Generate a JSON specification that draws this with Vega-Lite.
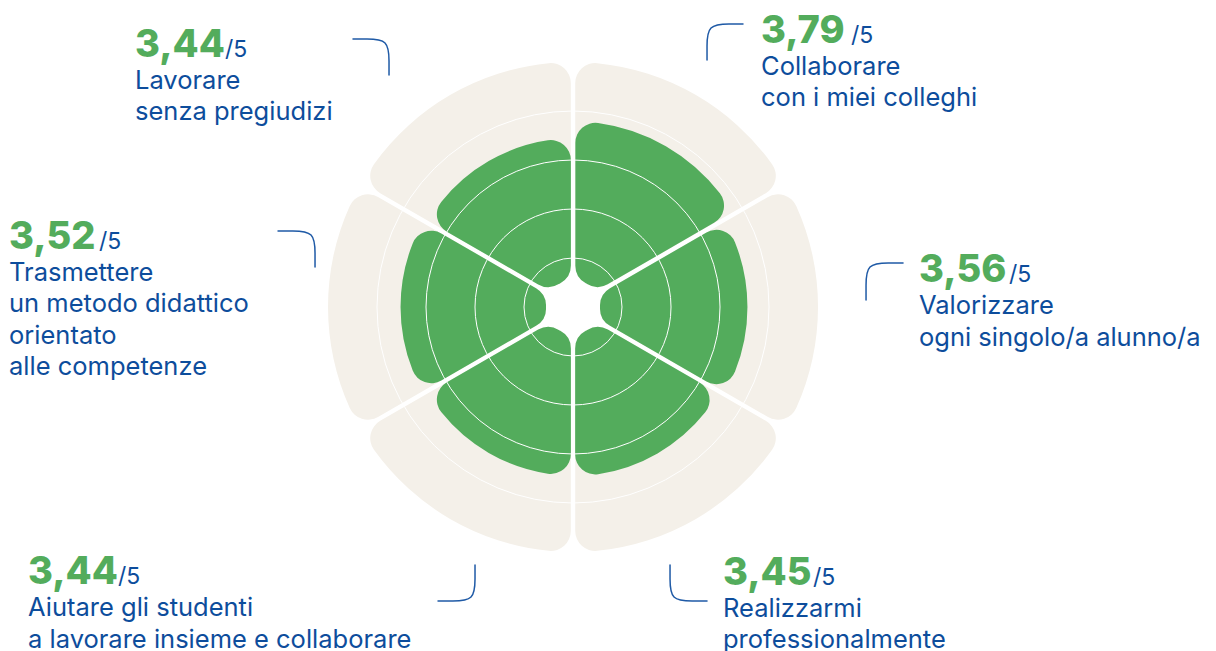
{
  "$schema": "https://vega.github.io/schema/vega-lite/v6.json",
  "width": 1216,
  "height": 651,
  "autosize": "none",
  "padding": 0,
  "background": "white",
  "config": {
    "view": {"stroke": null},
    "locale": {"number": {"decimal": ",", "thousands": ".", "grouping": [3], "currency": ["€", ""]}}
  },
  "datasets": {
    "scores": [
      {"aspetto": "Collaborare\ncon i miei colleghi", "punteggio": 3.79, "quota": 1},
      {"aspetto": "Valorizzare\nogni singolo/a alunno/a", "punteggio": 3.56, "quota": 1},
      {"aspetto": "Realizzarmi\nprofessionalmente", "punteggio": 3.45, "quota": 1},
      {"aspetto": "Aiutare gli studenti\na lavorare insieme e collaborare", "punteggio": 3.44, "quota": 1},
      {"aspetto": "Trasmettere\nun metodo didattico\norientato\nalle competenze", "punteggio": 3.52, "quota": 1},
      {"aspetto": "Lavorare\nsenza pregiudizi", "punteggio": 3.44, "quota": 1}
    ],
    "griglia": [{"livello": 1}, {"livello": 2}, {"livello": 3}, {"livello": 4}],
    "etichette": [
      {"aspetto": "Collaborare\ncon i miei colleghi", "ax": 3.837, "ay": 5.388},
      {"aspetto": "Valorizzare\nogni singolo/a alunno/a", "ax": 7.061, "ay": 0.51},
      {"aspetto": "Realizzarmi\nprofessionalmente", "ax": 3.061, "ay": -5.673},
      {"aspetto": "Aiutare gli studenti\na lavorare insieme e collaborare", "ax": -11.122, "ay": -5.653},
      {"aspetto": "Trasmettere\nun metodo didattico\norientato\nalle competenze", "ax": -11.51, "ay": 1.184},
      {"aspetto": "Lavorare\nsenza pregiudizi", "ax": -8.939, "ay": 5.102}
    ],
    "connettori": [
      {"c": "Collaborare", "p": 1, "ax": 2.735, "ay": 5.041},
      {"c": "Collaborare", "p": 2, "ax": 2.735, "ay": 5.286},
      {"c": "Collaborare", "p": 3, "ax": 2.735, "ay": 5.776},
      {"c": "Collaborare", "p": 4, "ax": 3.224, "ay": 5.776},
      {"c": "Collaborare", "p": 5, "ax": 3.469, "ay": 5.776},
      {"c": "Valorizzare", "p": 1, "ax": 5.98, "ay": 0.143},
      {"c": "Valorizzare", "p": 2, "ax": 5.98, "ay": 0.408},
      {"c": "Valorizzare", "p": 3, "ax": 5.98, "ay": 0.898},
      {"c": "Valorizzare", "p": 4, "ax": 6.469, "ay": 0.898},
      {"c": "Valorizzare", "p": 5, "ax": 6.735, "ay": 0.898},
      {"c": "Realizzarmi", "p": 1, "ax": 1.98, "ay": -5.265},
      {"c": "Realizzarmi", "p": 2, "ax": 1.98, "ay": -5.51},
      {"c": "Realizzarmi", "p": 3, "ax": 1.98, "ay": -6.0},
      {"c": "Realizzarmi", "p": 4, "ax": 2.469, "ay": -6.0},
      {"c": "Realizzarmi", "p": 5, "ax": 2.735, "ay": -6.0},
      {"c": "Aiutare", "p": 1, "ax": -2.0, "ay": -5.265},
      {"c": "Aiutare", "p": 2, "ax": -2.0, "ay": -5.51},
      {"c": "Aiutare", "p": 3, "ax": -2.0, "ay": -6.0},
      {"c": "Aiutare", "p": 4, "ax": -2.49, "ay": -6.0},
      {"c": "Aiutare", "p": 5, "ax": -2.755, "ay": -6.0},
      {"c": "Trasmettere", "p": 1, "ax": -5.265, "ay": 0.816},
      {"c": "Trasmettere", "p": 2, "ax": -5.265, "ay": 1.061},
      {"c": "Trasmettere", "p": 3, "ax": -5.265, "ay": 1.551},
      {"c": "Trasmettere", "p": 4, "ax": -5.755, "ay": 1.551},
      {"c": "Trasmettere", "p": 5, "ax": -6.02, "ay": 1.551},
      {"c": "Lavorare", "p": 1, "ax": -3.755, "ay": 4.735},
      {"c": "Lavorare", "p": 2, "ax": -3.755, "ay": 4.98},
      {"c": "Lavorare", "p": 3, "ax": -3.755, "ay": 5.469},
      {"c": "Lavorare", "p": 4, "ax": -4.245, "ay": 5.469},
      {"c": "Lavorare", "p": 5, "ax": -4.49, "ay": 5.469}
    ]
  },
  "layer": [
    {
      "data": {"name": "scores"},
      "transform": [{"stack": "quota", "groupby": [], "as": ["t0", "t1"]}],
      "mark": {"type": "arc", "innerRadius": 27, "cornerRadius": 20, "padAngle": 0.018, "color": "#F4F0E9"},
      "encoding": {
        "x": {"datum": 0, "type": "quantitative", "scale": {"type": "linear", "domain": [-11.694, 13.122], "nice": false, "zero": false}, "axis": null},
        "y": {"datum": 0, "type": "quantitative", "scale": {"type": "linear", "domain": [-7.02, 6.265], "nice": false, "zero": false}, "axis": null},
        "theta": {"field": "t0", "type": "quantitative", "stack": null, "scale": {"domain": [0, 6], "range": [0, 6.283185307], "zero": true, "nice": false}},
        "theta2": {"field": "t1"},
        "radius": {"datum": 5, "type": "quantitative", "stack": null, "scale": {"type": "linear", "domain": [0, 5], "range": [0, 245], "zero": true}}
      }
    },
    {
      "data": {"name": "scores"},
      "transform": [{"stack": "quota", "groupby": [], "as": ["t0", "t1"]}],
      "mark": {"type": "arc", "innerRadius": 27, "cornerRadius": 20, "padAngle": 0.025, "color": "#53AC5C"},
      "encoding": {
        "x": {"datum": 0, "type": "quantitative", "scale": {"type": "linear", "domain": [-11.694, 13.122], "nice": false, "zero": false}, "axis": null},
        "y": {"datum": 0, "type": "quantitative", "scale": {"type": "linear", "domain": [-7.02, 6.265], "nice": false, "zero": false}, "axis": null},
        "theta": {"field": "t0", "type": "quantitative", "stack": null, "scale": {"domain": [0, 6], "range": [0, 6.283185307], "zero": true, "nice": false}},
        "theta2": {"field": "t1"},
        "radius": {"field": "punteggio", "type": "quantitative", "stack": null, "scale": {"type": "linear", "domain": [0, 5], "range": [0, 245], "zero": true}}
      }
    },
    {
      "data": {"name": "griglia"},
      "mark": {"type": "arc", "theta": 0, "theta2": 6.2832, "filled": false, "stroke": "white", "strokeWidth": 1},
      "encoding": {
        "x": {"datum": 0, "type": "quantitative", "scale": {"type": "linear", "domain": [-11.694, 13.122], "nice": false, "zero": false}, "axis": null},
        "y": {"datum": 0, "type": "quantitative", "scale": {"type": "linear", "domain": [-7.02, 6.265], "nice": false, "zero": false}, "axis": null},
        "radius": {"field": "livello", "type": "quantitative", "stack": null, "scale": {"type": "linear", "domain": [0, 5], "range": [0, 245], "zero": true}}
      }
    },
    {
      "data": {"name": "connettori"},
      "mark": {"type": "line", "interpolate": "basis", "stroke": "#1F5AA6", "strokeWidth": 1.5, "strokeCap": "round"},
      "encoding": {
        "x": {"field": "ax", "type": "quantitative", "scale": {"type": "linear", "domain": [-11.694, 13.122], "nice": false, "zero": false}, "axis": null},
        "y": {"field": "ay", "type": "quantitative", "scale": {"type": "linear", "domain": [-7.02, 6.265], "nice": false, "zero": false}, "axis": null},
        "detail": {"field": "c", "type": "nominal"},
        "order": {"field": "p", "type": "quantitative"}
      }
    },
    {
      "data": {"name": "etichette"},
      "transform": [{"lookup": "aspetto", "from": {"data": {"name": "scores"}, "key": "aspetto", "fields": ["punteggio"]}}],
      "mark": {"type": "text", "align": "left", "baseline": "alphabetic", "font": "Inter", "fontSize": 38, "fontWeight": 800, "color": "#53AC5C"},
      "encoding": {
        "x": {"field": "ax", "type": "quantitative", "scale": {"type": "linear", "domain": [-11.694, 13.122], "nice": false, "zero": false}, "axis": null},
        "y": {"field": "ay", "type": "quantitative", "scale": {"type": "linear", "domain": [-7.02, 6.265], "nice": false, "zero": false}, "axis": null},
        "text": {"field": "punteggio", "type": "quantitative", "format": ".2f"}
      }
    },
    {
      "data": {"name": "etichette"},
      "mark": {"type": "text", "align": "left", "baseline": "alphabetic", "font": "Inter", "fontSize": 23, "fontWeight": 400, "color": "#0D4D9C", "text": "/5", "dx": 90},
      "encoding": {
        "x": {"field": "ax", "type": "quantitative", "scale": {"type": "linear", "domain": [-11.694, 13.122], "nice": false, "zero": false}, "axis": null},
        "y": {"field": "ay", "type": "quantitative", "scale": {"type": "linear", "domain": [-7.02, 6.265], "nice": false, "zero": false}, "axis": null}
      }
    },
    {
      "data": {"name": "etichette"},
      "mark": {"type": "text", "align": "left", "baseline": "alphabetic", "font": "Inter", "fontSize": 25.5, "fontWeight": 400, "color": "#0D4D9C", "lineBreak": "\n", "lineHeight": 31.5, "dy": 32},
      "encoding": {
        "x": {"field": "ax", "type": "quantitative", "scale": {"type": "linear", "domain": [-11.694, 13.122], "nice": false, "zero": false}, "axis": null},
        "y": {"field": "ay", "type": "quantitative", "scale": {"type": "linear", "domain": [-7.02, 6.265], "nice": false, "zero": false}, "axis": null},
        "text": {"field": "aspetto", "type": "nominal"}
      }
    }
  ]
}
